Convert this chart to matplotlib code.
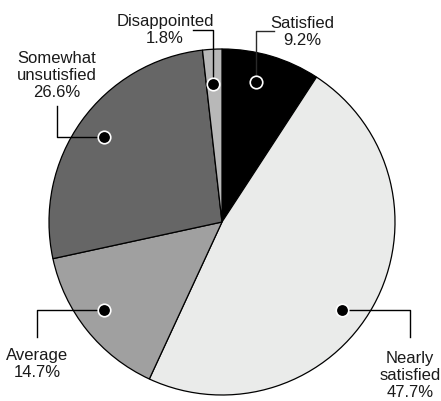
import numpy as np
import matplotlib
matplotlib.use('Agg')
from matplotlib import pyplot as plt

plt.rcParams['font.family'] = ['Liberation Sans', 'DejaVu Sans']

# data
categories = ['Satisfied', 'Nearly\nsatisfied', 'Average', 'Somewhat\nunsutisfied', 'Disappointed']
shares = [9.2, 47.7, 14.7, 26.6, 1.8]
colours = ['#000000', '#eaebea', '#a0a0a0', '#666666', '#b8b8b8']

# layout (pixel space)
CX, CY, R = 222, 222, 173
# dot angle offset (deg) and radius fraction
dot_tweak = [(3, 0.83), (-7.5, 0.86), (-2, 0.85), (0, 0.84), (0.5, 0.80)]
# label anchor: centre x, last baseline y
label_xy = [(302, 45), (410, 397), (37, 377), (57, 97), (165, 43)]
# leader elbow: corner x/y, end x/y
elbow = [(256, 31, 274, 31), (410, 311, 410, 337), (37, 310, 37, 337),
         (57, 137, 57, 106), (213, 30, 193, 30)]

fig = plt.figure(figsize=(4.41, 4.01), dpi=100)
ax = fig.add_axes([0, 0, 1, 1])

ax.pie(shares, colors=colours, startangle=-90, counterclock=True,
       center=(CX, CY), radius=R, frame=True,
       wedgeprops=dict(edgecolor='black', linewidth=0.9))
ax.set_xlim(0, 441)
ax.set_ylim(401, 0)
ax.set_aspect('equal')
ax.axis('off')

start = 90.0
for i, (cat, val) in enumerate(zip(categories, shares)):
    ext = val * 3.6
    mid = start - ext / 2
    start -= ext
    ang = np.deg2rad(mid + dot_tweak[i][0])
    r = R * dot_tweak[i][1]
    dx = CX + r * np.cos(ang)
    dy = CY - r * np.sin(ang)
    ex, ey, tx, ty = elbow[i]
    lc = '#2a2a2a' if i == 0 else 'black'
    # leader: dot -> elbow, then to text
    if i in (0, 4):
        ax.plot([dx, dx, tx], [dy, ey, ey], color=lc, lw=1.0, zorder=3)
    elif i == 3:
        ax.plot([dx, tx, tx], [dy, dy, ty], color=lc, lw=1.0, zorder=3)
    else:
        ax.plot([dx, ex, ex], [dy, dy, ty], color=lc, lw=1.0, zorder=3)
    ax.plot(dx, dy, 'o', ms=9, mfc='black', mec='white', mew=1.2, zorder=4)
    lx, ly = label_xy[i]
    ax.text(lx, ly, f'{cat}\n{val}%', ha='center', va='baseline',
            fontsize=12, linespacing=1.15, color='#1a1a1a')

fig.savefig('out.png', dpi=100)
